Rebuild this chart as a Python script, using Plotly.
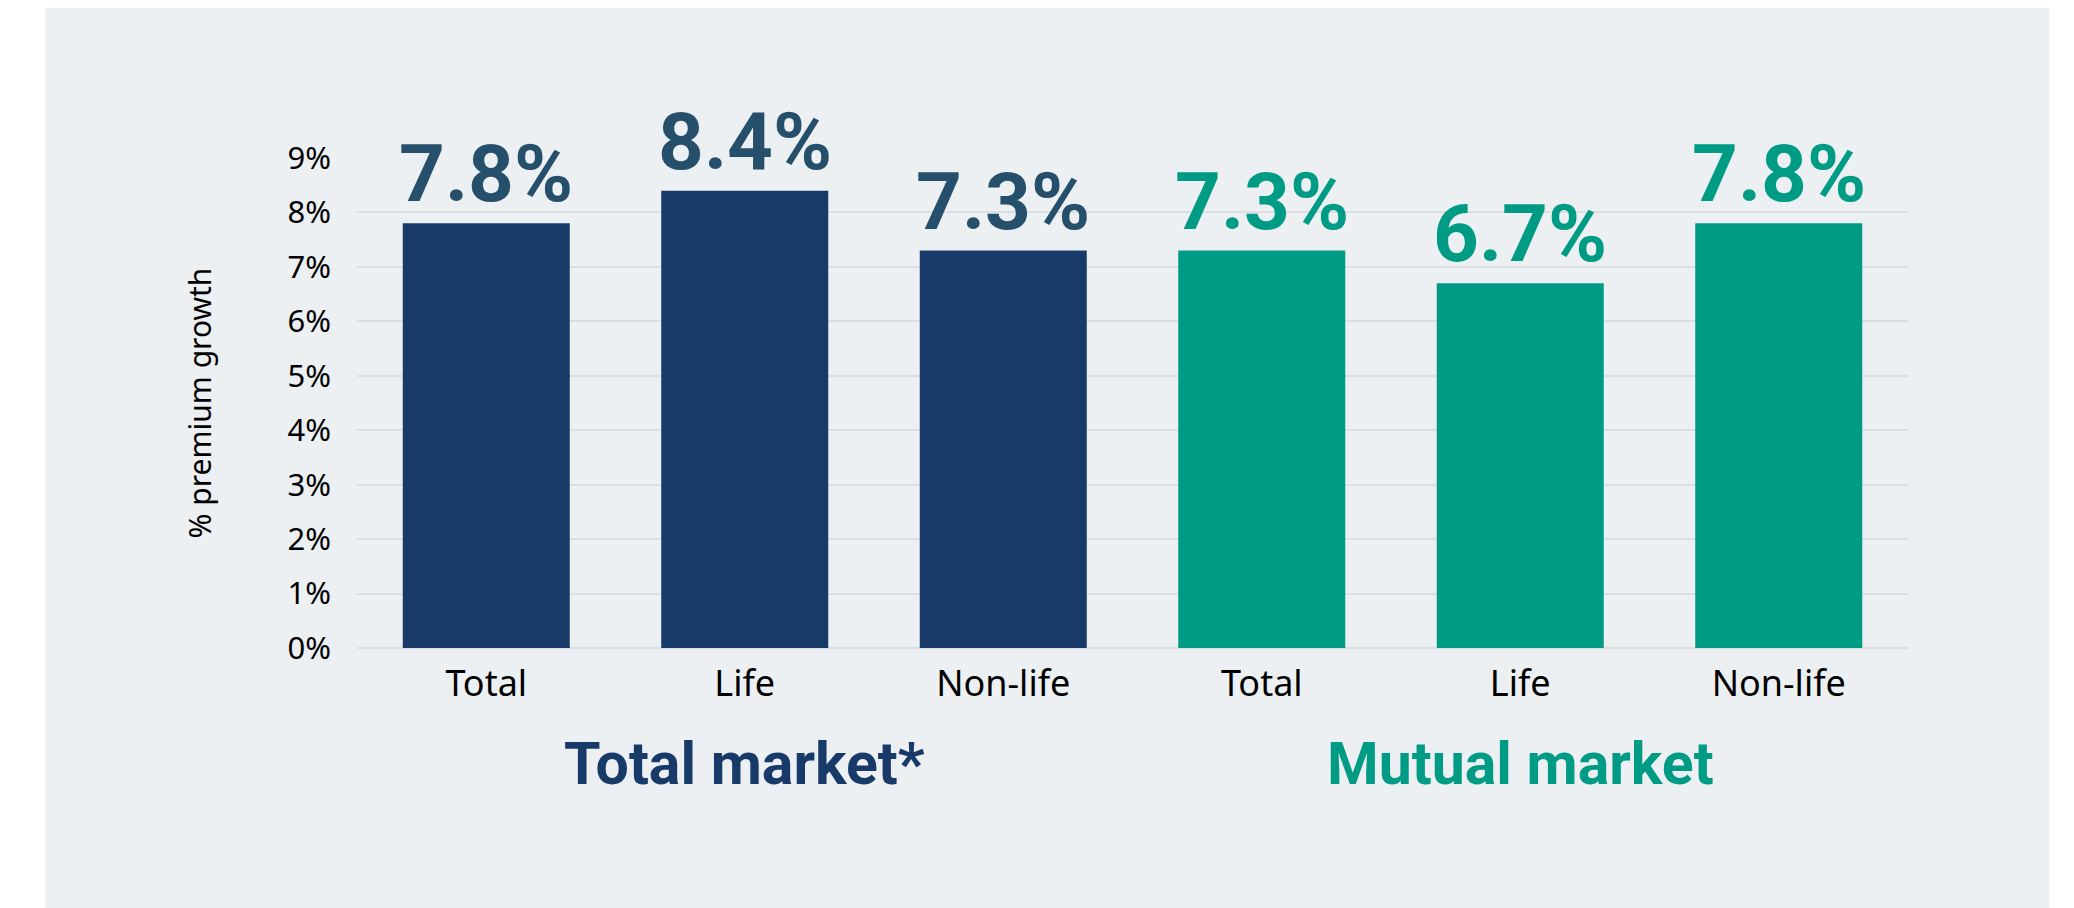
import plotly.graph_objects as go

# ---- data ----
groups = ["Total market*", "Mutual market"]
categories = ["Total", "Life", "Non-life"]
total_market = [7.8, 8.4, 7.3]
mutual_market = [7.3, 6.7, 7.8]
y_ticks = [0, 1, 2, 3, 4, 5, 6, 7, 8, 9]
y_tick_text = [f"{t}%" for t in y_ticks]
y_title = "% premium growth"

# ---- styles ----
OFF = 8  # page body margin
W, H = 2074 - OFF, 908 - OFF
bar_colors = ["#183A68", "#009B84"]
label_colors = ["#264F6B", "#009B84"]
panel_color = "#ECF0F3"
grid_color = "#DCDFE2"

L = 357 - OFF
R = W - (1908 - OFF)
T = 158 - OFF
B = H - (648 - OFF)
pw = W - L - R
ph = H - T - B

series = [total_market, mutual_market]
keys_all = []
fig = go.Figure()
for gi, (g, vals) in enumerate(zip(groups, series)):
    keys = [f"{g}|{c}" for c in categories]
    keys_all += keys
    fig.add_trace(go.Bar(
        x=keys, y=vals, marker=dict(color=bar_colors[gi], line=dict(width=0)),
        showlegend=False, hoverinfo="skip",
    ))
    for k, v in zip(keys, vals):
        fig.add_annotation(
            x=k, y=v, xref="x", yref="y", text=f"{v:.1f}%",
            showarrow=False, yanchor="bottom", xanchor="center", yshift=0,
            font=dict(family="Roboto", size=80, color=label_colors[gi], weight="bold"),
        )
    # group title under the middle category
    fig.add_annotation(
        x=keys[1], y=-(785 - 648 + 15) / ph, xref="x", yref="paper",
        text=g, showarrow=False, yanchor="bottom", xanchor="center",
        font=dict(family="Roboto", size=59, color=bar_colors[gi], weight="bold"),
    )

fig.add_shape(
    type="rect", xref="paper", yref="paper",
    x0=(45 - OFF - L) / pw, x1=(2049 - OFF - L) / pw,
    y0=-(B + 20) / ph, y1=(H - B) / ph,
    fillcolor=panel_color, line=dict(width=0), layer="below",
)

fig.update_layout(
    width=W, height=H,
    margin=dict(l=L, r=R, t=T, b=B, pad=0),
    paper_bgcolor="white", plot_bgcolor="rgba(0,0,0,0)",
    bargap=0.354,
    font=dict(family="Noto Sans", color="black"),
)
fig.update_xaxes(
    type="category", categoryorder="array", categoryarray=keys_all,
    tickvals=keys_all, ticktext=categories * 2,
    tickfont=dict(family="Noto Sans", size=36, color="black"),
    showgrid=False, showline=False, zeroline=False, ticks="", fixedrange=True,
    ticklabelstandoff=11,
)
fig.update_yaxes(
    range=[0, 9], tickmode="array", tickvals=y_ticks, ticktext=y_tick_text,
    tickfont=dict(family="Noto Sans", size=31, color="black"),
    showgrid=True, gridcolor=grid_color, gridwidth=2,
    zeroline=True, zerolinecolor=grid_color, zerolinewidth=2,
    showline=False, ticks="", ticklabelstandoff=25,
    title=dict(text=y_title, font=dict(family="Noto Sans", size=30, color="black"), standoff=67),
)

fig.write_html("out.html")
